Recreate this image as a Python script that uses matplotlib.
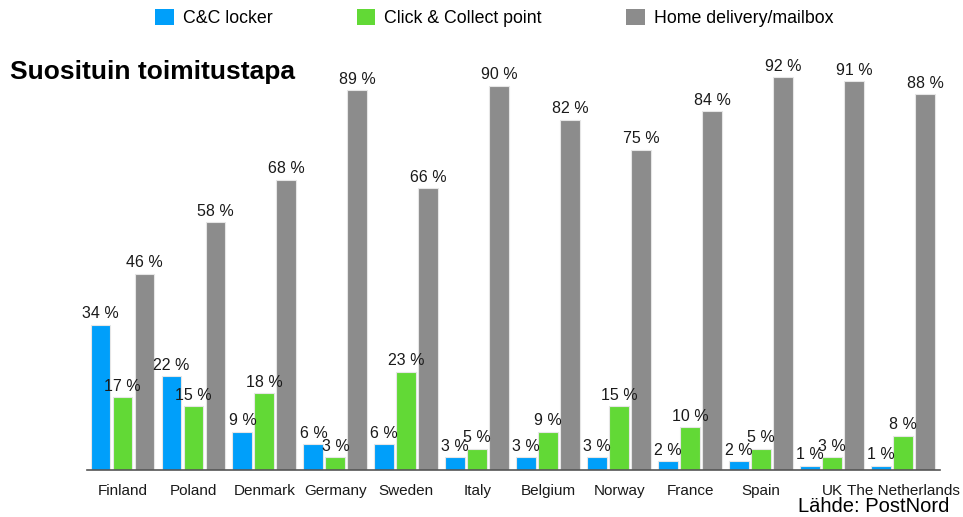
import matplotlib
matplotlib.use("Agg")
import matplotlib.pyplot as plt
from matplotlib.patches import Patch
import numpy as np

countries = ["Finland", "Poland", "Denmark", "Germany", "Sweden", "Italy",
             "Belgium", "Norway", "France", "Spain", "UK", "The Netherlands"]
locker = [34, 22, 9, 6, 6, 3, 3, 3, 2, 2, 1, 1]
cc_point = [17, 15, 18, 3, 23, 5, 9, 15, 10, 5, 3, 8]
home = [46, 58, 68, 89, 66, 90, 82, 75, 84, 92, 91, 88]

series_names = ["C&C locker", "Click & Collect point", "Home delivery/mailbox"]
colors = ["#009ffa", "#62d936", "#8c8c8c"]

plt.rcParams["font.family"] = ["Liberation Sans", "DejaVu Sans"]

W, H = 963, 517
fig = plt.figure(figsize=(W / 100, H / 100), dpi=100)
fig.patch.set_facecolor("white")
ax = fig.add_axes([87 / W, (H - 470) / H, (940 - 87) / W, 427 / H])

x = np.arange(len(countries))
width = 0.28
offset = 0.31
for i, (vals, col) in enumerate(zip([locker, cc_point, home], colors)):
    pos = x + (i - 1) * offset
    ax.bar(pos, vals, width=width, color=col, edgecolor="#e6e6e6", linewidth=0.8)
    for p, v in zip(pos, vals):
        ax.text(p, v + 0.8, f"{v} %", ha="center", va="bottom", fontsize=11.5,
                color="#1a1a1a")

ax.set_xlim(-0.5, 11.52)
ax.set_ylim(0, 100)
ax.set_xticks(x)
ax.set_xticklabels(countries, fontsize=11, color="#1a1a1a")
ax.tick_params(axis="x", length=0, pad=10)
ax.set_yticks([])
for s in ["top", "right", "left"]:
    ax.spines[s].set_visible(False)
ax.spines["bottom"].set_color("#555555")
ax.spines["bottom"].set_linewidth(1.2)

fig.text(10 / W, 1 - 72 / H, "Suosituin toimitustapa", fontsize=19,
         fontweight="bold", va="center", ha="left")
fig.text(949 / W, 1 - 512 / H, "Lähde: PostNord", fontsize=14.5,
         va="baseline", ha="right")

handles = [Patch(facecolor=c, edgecolor="none") for c in colors]
fig.legend(handles, series_names, loc="center left",
           bbox_to_anchor=(155 / W, 1 - 18 / H), ncol=3, frameon=False,
           fontsize=12.8, handlelength=1.05, handleheight=1.05,
           handletextpad=0.5, columnspacing=4.75,
           borderpad=0, borderaxespad=0)

fig.savefig("out.png", dpi=100, facecolor="white")
